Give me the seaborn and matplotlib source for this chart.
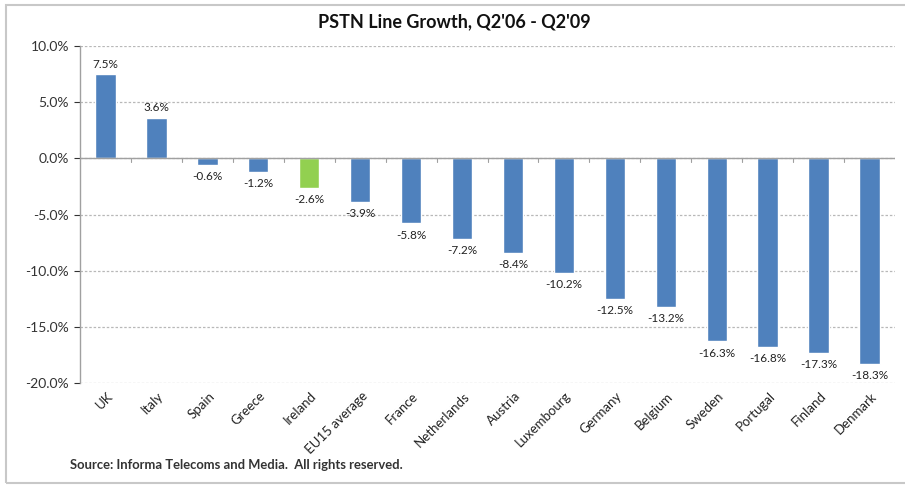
import matplotlib
matplotlib.use("Agg")
import matplotlib.pyplot as plt
import matplotlib.ticker as mticker
from matplotlib.patches import Rectangle
import seaborn as sns
import pandas as pd

countries = ["UK", "Italy", "Spain", "Greece", "Ireland", "EU15 average", "France",
             "Netherlands", "Austria", "Luxembourg", "Germany", "Belgium", "Sweden",
             "Portugal", "Finland", "Denmark"]
growth = [7.5, 3.6, -0.6, -1.2, -2.6, -3.9, -5.8, -7.2, -8.4, -10.2, -12.5, -13.2,
          -16.3, -16.8, -17.3, -18.3]
highlight = "Ireland"

df = pd.DataFrame({"country": countries, "growth": growth})
blue = "#4F81BD"
green = "#92D050"
palette = {c: (green if c == highlight else blue) for c in countries}

sns.set_theme(style="white")
plt.rcParams["font.family"] = ["Lato", "DejaVu Sans"]

fig = plt.figure(figsize=(9.05, 4.86), dpi=100)
ax = fig.add_axes([80 / 905, 1 - 383 / 486, 815 / 905, 337 / 486])

sns.barplot(data=df, x="country", y="growth", hue="country", palette=palette,
            width=0.4, legend=False, ax=ax, saturation=1)

ax.set_ylim(-20, 10)
ax.set_xlim(-0.5, len(countries) - 0.5)
ax.yaxis.set_major_locator(mticker.MultipleLocator(5))
ax.yaxis.set_major_formatter(mticker.FuncFormatter(lambda v, p: f"{v:.1f}%"))
ax.tick_params(axis="y", labelsize=10, colors="#333333", length=4, width=0.8,
               direction="out", left=True, pad=4)
ax.tick_params(axis="x", length=0, pad=2)
ax.set_xlabel("")
ax.set_ylabel("")

for s in ["top", "right", "bottom"]:
    ax.spines[s].set_visible(False)
ax.spines["left"].set_color("#A0A0A0")
ax.spines["left"].set_linewidth(1.0)

# dashed gridlines
for v in range(-20, 11, 5):
    ax.axhline(v, color="#B8B8B8", lw=0.9, ls=(0, (2, 1.5)), zorder=0)
ax.axhline(0, color="#A0A0A0", lw=1.0, zorder=1)

# category separators on the zero line
for i in range(1, len(countries)):
    ax.plot([i - 0.5, i - 0.5], [0, -0.35], color="#A0A0A0", lw=0.8, zorder=1)

ax.set_xticks(range(len(countries)))
ax.set_xticklabels(countries, rotation=45, ha="right", rotation_mode="anchor",
                   fontsize=9.5, color="#222222")
for lbl in ax.get_xticklabels():
    lbl.set_transform(lbl.get_transform() + matplotlib.transforms.ScaledTranslation(
        1 / 100, -4 / 100, fig.dpi_scale_trans))

for i, v in enumerate(growth):
    if v >= 0:
        ax.text(i, v + 0.4, f"{v:.1f}%", ha="center", va="bottom", fontsize=8.5,
                color="#222222")
    else:
        ax.text(i, v - 0.55, f"{v:.1f}%", ha="center", va="top", fontsize=8.5,
                color="#222222")

fig.text(454 / 905, 1 - 22 / 486, "PSTN Line Growth, Q2'06 - Q2'09", ha="center",
         va="center", fontsize=13, fontweight="bold", color="#111111")
fig.text(70 / 905, 1 - 465 / 486, "Source: Informa Telecoms and Media.  All rights reserved.",
         ha="left", va="center", fontsize=9.4, fontweight="bold", color="#333333")

fig.patches.append(Rectangle((6 / 905, 1 - 483 / 486), 905 / 905, 478 / 486,
                             transform=fig.transFigure, fill=False,
                             edgecolor="#C8C8C8", lw=1.5))

fig.savefig("out.png", dpi=100)
